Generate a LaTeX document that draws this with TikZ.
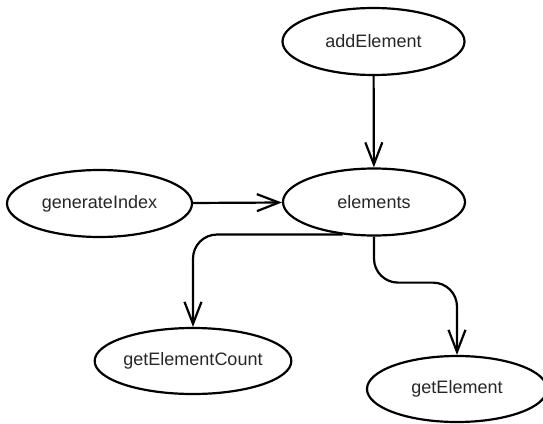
\documentclass[tikz,border=0pt]{standalone}
\usepackage{fontspec}
\setmainfont{Liberation Sans}
\usetikzlibrary{arrows.meta,shapes.geometric}
\begin{document}
\begin{tikzpicture}[x=1pt,y=-1pt,
  oval/.style={ellipse,draw,line width=2.2pt,inner sep=0pt,minimum width=182pt,minimum height=67pt,font=\fontsize{18}{22}\selectfont,text=black!85},
  conn/.style={line width=2.2pt,-{Straight Barb[length=22pt,width=17pt,line width=2.2pt]},rounded corners=24pt}]
\useasboundingbox (0,0) rectangle (543,423);
\node[oval] (addElement) at (373.5,41.5) {addElement};
\node[oval] (elements) at (374,202) {elements};
\node[oval,minimum width=185pt] (generateIndex) at (99.5,203.5) {generateIndex};
\node[oval,minimum width=181pt,minimum height=66pt] (getElementCount) at (193,361) {getElementCount};
\node[oval,minimum width=180pt,minimum height=66pt] (getElement) at (457,389) {getElement};
\draw[conn] (addElement) -- (elements);
\draw[conn] (generateIndex) -- (elements);
\draw[conn] (elements.226) -| (getElementCount.north);
\draw[conn] (elements.south) -- ++(0,46) -| (getElement.north);
\end{tikzpicture}
\end{document}
